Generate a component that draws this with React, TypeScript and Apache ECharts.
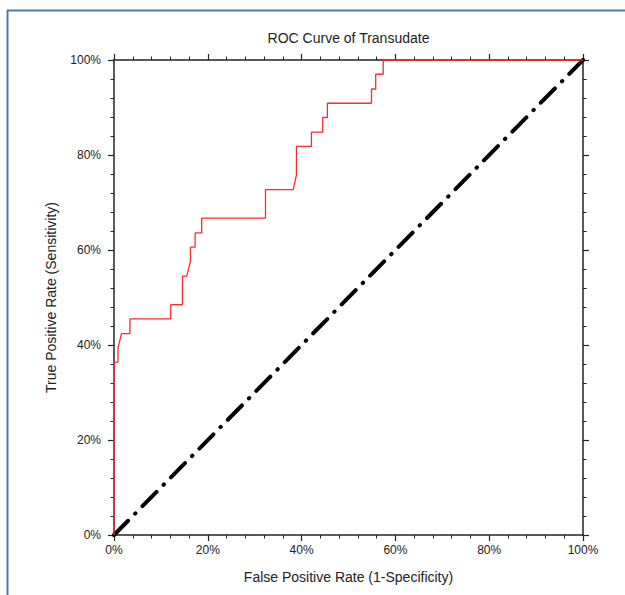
import React, { useEffect, useRef } from "react";
import * as echarts from "echarts";

const fpr = [0, 0, 0.85, 0.85, 1.6, 3.4, 3.4, 12.1, 12.1, 14.6, 14.6, 15.5, 16.3, 16.3, 17.3, 17.3, 18.7, 18.7, 32.3, 32.3, 38.2, 38.9, 38.9, 42.1, 42.1, 44.5, 44.5, 45.5, 45.5, 54.9, 54.9, 55.8, 55.8, 57.4, 57.4, 100];
const tpr = [0, 36.4, 36.4, 39.4, 42.4, 42.4, 45.5, 45.5, 48.5, 48.5, 54.5, 54.5, 57.6, 60.6, 60.6, 63.6, 63.6, 66.7, 66.7, 72.7, 72.7, 75.8, 81.8, 81.8, 84.8, 84.8, 87.9, 87.9, 90.9, 90.9, 93.9, 93.9, 97.0, 97.0, 100, 100];
const refX = [0, 100];
const refY = [0, 100];

const titleText = "ROC Curve of Transudate";
const xName = "False Positive Rate (1-Specificity)";
const yName = "True Positive Rate (Sensitivity)";

const FONT = "'Liberation Sans', Arial, Helvetica, sans-serif";

function axisBase(show: boolean) {
  return {
    type: "value" as const,
    min: 0,
    max: 100,
    interval: 20,
    splitLine: { show: false },
    axisLine: { show: true, onZero: false, lineStyle: { color: "#222", width: 1.5 } },
    axisTick: { show: true, inside: false, length: 6, lineStyle: { color: "#222", width: 1.2 } },
    minorTick: { show: true, splitNumber: 5, length: 3.5, lineStyle: { color: "#222", width: 1 } },
    axisLabel: {
      show,
      formatter: "{value}%",
      color: "#222",
      fontSize: 12,
      fontFamily: FONT,
    },
  };
}

export default function App() {
  const ref = useRef<HTMLDivElement>(null);
  useEffect(() => {
    document.body.style.margin = "0";
    if (!ref.current) return;
    const chart = echarts.init(ref.current, null, { renderer: "svg" });
    const roc = fpr.map((x, i) => [x, tpr[i]]);
    const diag = refX.map((x, i) => [x, refY[i]]);
    chart.setOption({
      animation: false,
      backgroundColor: "#fff",
      grid: { left: 114, top: 60, width: 469, height: 475, containLabel: false },
      xAxis: [
        {
          ...axisBase(true),
          position: "bottom",
          axisLabel: { ...axisBase(true).axisLabel, margin: 9 },
          name: xName,
          nameLocation: "middle",
          nameGap: 35,
          nameTextStyle: { color: "#222", fontSize: 14, fontFamily: FONT },
        },
        { ...axisBase(false), position: "top" },
      ],
      yAxis: [
        {
          ...axisBase(true),
          position: "left",
          axisLabel: { ...axisBase(true).axisLabel, margin: 13 },
          name: yName,
          nameLocation: "middle",
          nameGap: 56,
          nameTextStyle: { color: "#222", fontSize: 14, fontFamily: FONT },
        },
        { ...axisBase(false), position: "right" },
      ],
      graphic: [
        {
          type: "text",
          x: 348.5,
          y: 38,
          style: {
            text: titleText,
            fill: "#222",
            fontSize: 14,
            fontFamily: FONT,
            textAlign: "center",
            textVerticalAlign: "middle",
          },
        },
        {
          type: "line",
          shape: { x1: 7, y1: 10.5, x2: 625, y2: 10.5 },
          style: { stroke: "#4f7aa6", lineWidth: 2 },
        },
        {
          type: "line",
          shape: { x1: 7.5, y1: 10, x2: 7.5, y2: 595 },
          style: { stroke: "#4f7aa6", lineWidth: 2 },
        },
      ],
      series: [
        {
          type: "line",
          data: diag,
          symbol: "none",
          z: 2,
          lineStyle: { color: "#000", width: 4, type: [20, 10, 0.5, 10], cap: "round" },
        },
        {
          type: "line",
          data: roc,
          symbol: "none",
          z: 3,
          lineStyle: { color: "#ff2b2b", width: 1.3 },
        },
      ],
    });
    return () => chart.dispose();
  }, []);
  return <div ref={ref} style={{ width: 625, height: 595 }} />;
}
